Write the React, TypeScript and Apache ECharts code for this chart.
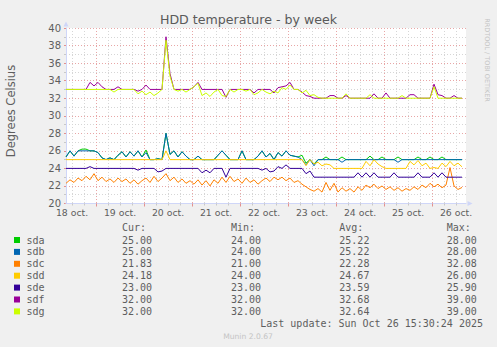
import React, { useEffect, useRef } from "react";
import * as echarts from "echarts";

// time axis: hours after 18 Oct 2025 00:00
const X_MIN = 9;
const X_MAX = 209;
const START_H = 9;
const STEP_H = 2;

const dayLabels = ["18 oct.", "19 oct.", "20 oct.", "21 oct.", "22 oct.", "23 oct.", "24 oct.", "25 oct.", "26 oct."];
const seriesNames = ["sda", "sdb", "sdc", "sdd", "sde", "sdf", "sdg"];
const seriesColors = ["#00CC00", "#0066B3", "#FF8000", "#FFCC00", "#330099", "#990099", "#CCFF00"];

const curVals = ["25.00", "25.00", "21.83", "24.18", "23.00", "32.00", "32.00"];
const minVals = ["24.00", "24.00", "21.00", "24.00", "23.00", "32.00", "32.00"];
const avgVals = ["25.22", "25.22", "22.28", "24.67", "23.59", "32.68", "32.64"];
const maxVals = ["28.00", "28.00", "32.08", "26.00", "25.90", "39.00", "39.00"];

const sda = [
  25.3, 26, 25.4, 26, 26.2, 26.2, 26, 26, 25.8, 25.2,
  25, 25.2, 25, 25.5, 25.9, 25.3, 25.9, 25.4, 26, 25.3,
  26.1, 25, 25, 25.1, 25, 28, 25.6, 26, 25.3, 25.9,
  25.4, 25, 25, 25.4, 25, 25, 25, 25, 25.5, 26,
  25.5, 25, 25, 25, 26, 25, 25, 25, 25.4, 26,
  25.3, 25.7, 25, 25.8, 25.4, 26, 25.5, 25.4, 25.3, 25.5,
  24.6, 25, 24.5, 25, 25, 25.3, 25, 25, 25, 25.3,
  25, 25, 25, 25, 25, 25, 25.4, 25, 25, 25.3,
  25, 25, 25, 25.3, 25, 25, 25, 25, 25.3, 25,
  25, 25.3, 25, 25, 25.3, 25, 25, 25, 25, 25,
];
const sdb = [
  25.3, 26, 25.4, 26, 26, 26, 26, 26, 25.8, 25.2,
  25, 25.2, 25, 25.5, 25.9, 25.3, 25.9, 25.4, 26, 25.3,
  25.8, 25, 25, 25.1, 25, 28, 25.6, 26, 25.3, 25.9,
  25.4, 25, 25, 25.4, 25, 25, 25, 25, 25.5, 26,
  25.5, 25, 25, 25, 26, 25, 25, 25, 25.4, 26,
  25.3, 25.7, 25, 25.8, 25.4, 26, 25.5, 25.4, 25.3, 25,
  24.4, 25, 24.3, 25, 25, 25, 25, 25, 25, 24.7,
  25, 25, 25, 25, 25, 25, 25, 25, 25, 25,
  25, 25, 25, 24.7, 25, 25, 25, 25, 25, 25,
  25, 25, 25, 25, 25, 25, 25, 25, 25, 25,
];
const sdc = [
  22.3, 22.7, 22.4, 22.9, 22.6, 23.1, 22.7, 23.4, 22.6, 23.0,
  22.5, 22.8, 22.4, 22.9, 22.5, 22.8, 22.3, 22.7, 22.2, 22.6,
  22.9, 22.4, 23.1, 22.5, 22.9, 23.4, 22.6, 23.0, 22.4, 22.8,
  22.3, 22.6, 22.2, 22.7, 22.1, 22.6, 22.0, 22.7, 22.3, 23.0,
  22.4, 23.1, 22.5, 22.8, 22.3, 22.9, 22.4, 22.7, 22.2, 22.6,
  22.9, 22.5, 23.0, 22.7, 23.0, 22.6, 22.9, 22.4, 22.6, 22.2,
  21.9, 21.6, 21.4, 21.7, 21.3, 22.4, 21.5, 22.3, 21.3, 21.8,
  21.4, 21.7, 21.3, 21.9, 21.5, 22.1, 21.8, 22.2, 21.7, 22.0,
  21.6, 21.9, 21.5, 21.8, 21.4, 21.7, 21.5, 21.9, 21.6, 22.1,
  21.8, 22.3, 21.9, 22.2, 21.8, 22.1, 24.1, 22.0, 21.6, 21.83,
];
const sdd = [
  25, 25, 25, 25, 25, 25, 25, 25, 25, 25,
  25, 25, 25, 25, 25, 25, 25, 25, 25, 25,
  25, 25, 25, 25, 25, 26, 25, 25, 25, 25,
  25, 25, 25, 25, 25, 25, 25, 25, 25, 25,
  25, 25, 25, 25, 25, 25, 25, 25, 25, 25,
  25, 25, 25, 25, 25, 25, 25, 25, 25, 25,
  24.3, 25, 24.5, 24.7, 24.3, 24.5, 24.4, 24, 24, 24,
  24, 24, 24, 24, 24, 24.8, 24.3, 25, 24.5, 24.2,
  24, 24, 24, 24, 24, 24, 24.8, 24.4, 24.9, 24.3,
  24.6, 24, 24.1, 24, 24.6, 24.2, 24.8, 24.3, 24.6, 24.18,
];
const sde = [
  24, 24, 24, 24, 24, 24, 24.2, 24, 24, 24,
  24, 24, 24, 24, 24, 24, 24, 24, 23.8, 24,
  24, 24, 24, 23.6, 23.7, 24, 24, 24, 24, 24,
  24, 24, 24, 24, 23.5, 23.8, 23.5, 24, 24, 24,
  23, 24, 24, 24, 24, 24, 24, 24, 24, 23.8,
  24, 23.6, 23.7, 24.2, 24, 24.4, 24, 24, 24, 24,
  23.4, 23.7, 23, 23, 23, 23, 23, 23, 23, 23,
  23, 23, 23, 23.5, 23, 23.5, 23, 23.5, 23, 23,
  23, 23, 23.5, 23, 23, 23, 23, 23, 23.5, 23,
  23, 23, 23.5, 23, 23.5, 23, 23, 23, 23, 23,
];
const sdf = [
  33, 33, 33, 33, 33, 33, 33.8, 33.4, 33.8, 33.3,
  33, 33, 33, 33.3, 33, 33, 33, 33, 32.8, 33,
  33.5, 33, 33, 33, 33, 39.0, 34.8, 33, 33, 33,
  33, 33, 33.3, 33.8, 33, 33, 33, 33, 33, 33,
  32.1, 33, 33, 33, 33, 33, 33, 32.6, 33, 33,
  33, 33, 32.6, 33.2, 33.3, 33.4, 33.8, 33, 33, 32.7,
  32.3, 32.2, 32, 32, 32, 32, 32.3, 32.3, 32, 32,
  32.3, 32, 32, 32, 32, 32, 32, 32.5, 32, 32,
  32.6, 32, 32, 32, 32, 32, 32.4, 32.4, 32, 32,
  32, 32, 33.6, 32.4, 32.3, 32, 32, 32.3, 32, 32,
];
const sdg = [
  33, 33, 33, 33, 33, 33, 33, 33, 33, 33,
  33, 33, 32.7, 33, 33, 33, 33, 33, 32.5, 32.8,
  32.4, 32.7, 32.3, 32.6, 33, 38.6, 34.5, 33, 32.8, 33,
  32.7, 33, 33.3, 33.7, 32.3, 32.6, 32.2, 32.7, 33, 32.3,
  32.2, 33, 32.7, 33, 33, 32.8, 33, 32.4, 32.6, 33,
  32.7, 32.5, 32.8, 32.6, 33.2, 33, 33.5, 33, 33, 32.6,
  32.9, 32.3, 32.4, 32.1, 32, 32, 32, 32, 32, 32,
  32.5, 32, 32, 32, 32, 32, 32.4, 32, 32, 32,
  32, 32, 32, 32, 32.3, 32, 32, 32, 32, 32,
  32, 32, 33.3, 32, 32, 32, 32, 32, 32, 32,
];

const seriesValues = [sda, sdb, sdc, sdd, sde, sdf, sdg];

const FONT = "DejaVu Sans";
const MONO = "DejaVu Sans Mono";
const TXT = "#5e5e5e";

function hoursEvery(step: number, offset: number) {
  const out: number[] = [];
  for (let h = offset; h <= X_MAX; h += step) if (h >= X_MIN) out.push(h);
  return out;
}

function txt(text: string, x: number, y: number, o: any = {}) {
  return {
    type: "text",
    x,
    y,
    rotation: o.rotation || 0,
    silent: true,
    style: {
      text,
      fill: o.fill || TXT,
      fontSize: o.size || 10,
      fontFamily: o.family || MONO,
      align: o.align || "left",
      verticalAlign: "middle",
      textAlign: o.align || "left",
      textVerticalAlign: "middle",
    },
  };
}

export default function App() {
  const ref = useRef<HTMLDivElement>(null);
  useEffect(() => {
    if (!ref.current) return;
    const chart = echarts.init(ref.current, undefined, { renderer: "svg" });

    const minorHours = hoursEvery(6, 12);
    const dayHours = hoursEvery(24, 24);
    const noonHours = hoursEvery(24, 12);

    const graphics: any[] = [];
    graphics.push(txt("HDD temperature - by week", 248.5, 19.5, { size: 12.6, family: FONT, align: "center", fill: "#5a5a5a" }));
    graphics.push(txt("Degrees Celsius", 11, 111, { size: 11.5, family: FONT, align: "center", rotation: Math.PI / 2 }));
    graphics.push(txt("RRDTOOL / TOBI OETIKER", 487, 60, { size: 6.5, family: FONT, align: "center", rotation: -Math.PI / 2, fill: "#c4c4c4" }));

    const cols = [122, 231, 339.3, 446.7];
    const heads = ["Cur:", "Min:", "Avg:", "Max:"];
    heads.forEach((h, k) => graphics.push(txt(h, cols[k], 227.5)));
    seriesNames.forEach((n, i) => {
      const y = 240 + i * 11.9;
      graphics.push({ type: "rect", silent: true, shape: { x: 14, y: y - 3, width: 6, height: 6 }, style: { fill: seriesColors[i] } });
      graphics.push(txt(n, 26.5, y));
      graphics.push(txt(curVals[i], cols[0], y));
      graphics.push(txt(minVals[i], cols[1], y));
      graphics.push(txt(avgVals[i], cols[2], y));
      graphics.push(txt(maxVals[i], cols[3], y));
    });
    graphics.push(txt("Last update: Sun Oct 26 15:30:24 2025", 483, 323.3, { align: "right" }));
    graphics.push(txt("Munin 2.0.67", 248, 336, { size: 7.6, family: FONT, align: "center", fill: "#c4c4c4" }));

    const option: any = {
      animation: false,
      backgroundColor: "#F0F0F0",
      grid: {
        left: 66,
        top: 28,
        right: 31,
        bottom: 143.5,
        show: true,
        backgroundColor: "#FFFFFF",
        borderWidth: 0,
        containLabel: false,
        outerBoundsMode: "none",
      },
      xAxis: [
        {
          type: "value",
          min: X_MIN,
          max: X_MAX,
          position: "bottom",
          z: 3,
          axisLine: {
            show: true,
            onZero: false,
            lineStyle: { color: "#CFD6F8", width: 1 },
            symbol: ["none", "triangle"],
            symbolSize: [5, 5],
            symbolOffset: [0, 4],
          },
          axisTick: { show: true, customValues: minorHours, length: 2, lineStyle: { color: "#c8c8c8" } },
          axisLabel: {
            customValues: noonHours,
            formatter: (v: number) => dayLabels[Math.round((v - 12) / 24)] || "",
            color: TXT,
            fontSize: 9.3,
            fontFamily: FONT,
            margin: 4,
          },
          splitLine: { show: true, lineStyle: { color: "#d6d6d6", width: 1, type: [1, 2] } },
        },
        {
          type: "value",
          min: X_MIN,
          max: X_MAX,
          position: "bottom",
          z: 3,
          axisLine: { show: false },
          axisLabel: { show: false },
          axisTick: { show: true, customValues: dayHours, length: 3, lineStyle: { color: "#e39090" } },
          splitLine: { show: true, lineStyle: { color: "#e8a6a6", width: 1, type: [1, 2] } },
        },
      ],
      yAxis: {
        type: "value",
        min: 20,
        max: 40,
        interval: 2,
        z: 2,
        axisLine: {
          show: true,
          onZero: false,
          lineStyle: { color: "#CFD6F8", width: 1 },
          symbol: ["none", "triangle"],
          symbolSize: [5, 5],
          symbolOffset: [0, 4],
        },
        axisTick: { show: true, length: 2, lineStyle: { color: "#e39090" } },
        minorTick: { show: true, splitNumber: 2, length: 2, lineStyle: { color: "#c8c8c8" } },
        axisLabel: { color: TXT, fontSize: 10, fontFamily: FONT, margin: 5 },
        splitLine: { show: true, lineStyle: { color: "#e8a6a6", width: 1, type: [1, 2] } },
        minorSplitLine: { show: true, lineStyle: { color: "#d6d6d6", width: 1, type: [1, 2] } },
      },
      series: seriesNames.map((name, i) => ({
        name,
        type: "line",
        xAxisIndex: 0,
        yAxisIndex: 0,
        showSymbol: false,
        symbol: "none",
        silent: true,
        z: 4,
        lineStyle: { color: seriesColors[i], width: 1 },
        itemStyle: { color: seriesColors[i] },
        data: seriesValues[i].map((v, k) => [START_H + k * STEP_H, v]),
      })),
      graphic: { elements: graphics },
    };

    chart.setOption(option);
    return () => chart.dispose();
  }, []);

  return <div ref={ref} style={{ position: "absolute", left: 0, top: 0, width: 497, height: 347 }} />;
}
